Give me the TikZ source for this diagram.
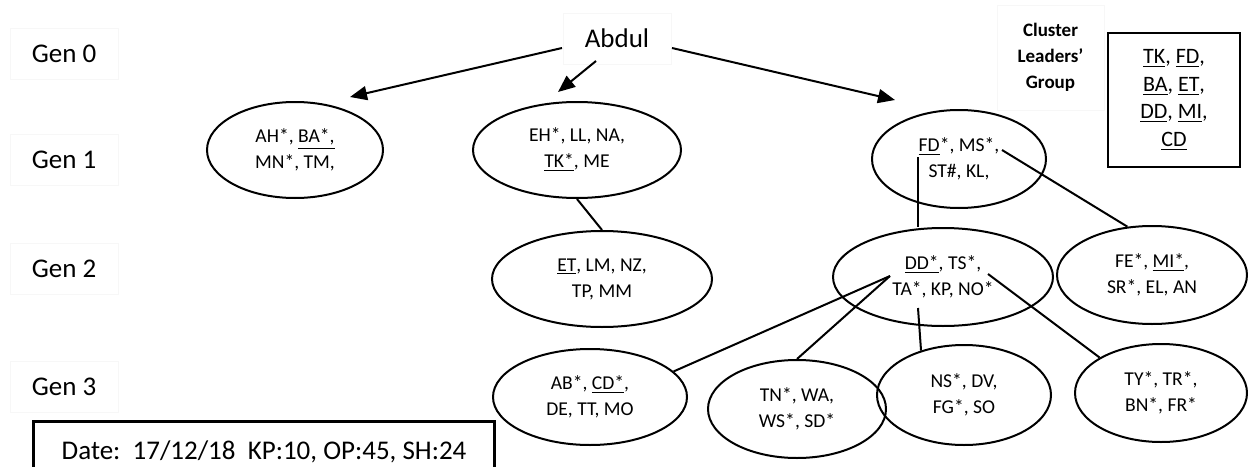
\documentclass[tikz,border=0pt]{standalone}
\usepackage{fontspec}
\setmainfont{Carlito}
\usetikzlibrary{shapes.geometric,arrows.meta,calc}
\begin{document}
\begin{tikzpicture}[x=0.5pt,y=-0.5pt,
  faint/.style={draw=black!3, line width=0.5pt, inner sep=0pt},
  gen/.style={faint, minimum width=54pt, minimum height=25.5pt, font=\fontsize{13.5}{16}\selectfont},
  person/.style={ellipse, draw, line width=1pt, inner sep=0pt, align=center, font=\fontsize{9.8}{13}\selectfont},
  link/.style={line width=1pt},
  arr/.style={line width=1pt, -{Triangle[length=8.5pt,width=7pt]}},
]
\useasboundingbox (0,0) rectangle (1248,466);
\clip (0,0) rectangle (1248,466);

% generation labels
\node[gen] (g0) at (64,53.5) {Gen 0};
\node[gen] (g1) at (64,160) {Gen 1};
\node[gen] (g2) at (64,268.5) {Gen 2};
\node[gen] (g3) at (64,386.5) {Gen 3};

% root
\node[faint, minimum width=54pt, minimum height=25.5pt, font=\fontsize{13.5}{16}\selectfont] (abdul) at (617,38.5) {Abdul};

% cluster leaders
\node[faint, minimum width=53.5pt, minimum height=52.5pt, align=center, font=\bfseries\fontsize{9.5}{13}\selectfont] (cl) at (1050.5,57.5) {Cluster\\Leaders’\\Group};
\node[draw, line width=1.2pt, inner sep=0pt, minimum width=66pt, minimum height=67pt, align=center, font=\fontsize{11}{13.8}\selectfont] (cb) at (1174,100) {\underline{TK}, \underline{FD},\\\underline{BA}, \underline{ET},\\\underline{DD}, \underline{MI},\\\underline{CD}};

% Gen 1
\node[person, minimum width=88pt, minimum height=48pt] (ah) at (295,150) {AH*, \underline{BA*,}\\MN*, TM,};
\node[person, minimum width=104pt, minimum height=48pt] (eh) at (577,150) {EH*, LL, NA,\\\underline{TK*}, ME};
\node[person, minimum width=87pt, minimum height=49pt] (fd) at (959,159) {\underline{FD}*, MS*,\\ST\#, KL,};

% Gen 2
\node[person, minimum width=110pt, minimum height=48pt] (et) at (602,279) {\underline{ET}, LM, NZ,\\TP, MM};
\node[person, minimum width=110pt, minimum height=49pt] (dd) at (943,277) {\underline{DD*}, TS*,\\TA*, KP, NO*};
\node[person, minimum width=95pt, minimum height=49pt] (fe) at (1152,275) {FE*, \underline{MI*},\\SR*, EL, AN};

% Gen 3
\node[person, minimum width=97pt, minimum height=48pt] (ab) at (590,397) {AB*, \underline{CD*},\\DE, TT, MO};
\node[person, minimum width=89pt, minimum height=49pt] (tn) at (797,409) {TN*, WA,\\WS*, SD*};
\node[person, minimum width=87pt, minimum height=50pt] (ns) at (964,395) {NS*, DV,\\FG*, SO};
\node[person, minimum width=86pt, minimum height=49pt] (ty) at (1161,393) {TY*, TR*,\\BN*, FR*};

% date box
\node[draw, line width=1.5pt, anchor=north west, inner sep=0pt, minimum width=230.5pt, minimum height=30pt, font=\fontsize{13.5}{16}\selectfont] (date) at (32,420) {Date:\ \ 17/12/18\ \ KP:10, OP:45, SH:24};

% connection points
\coordinate (a1s) at (562,48);
\coordinate (a1e) at (350,97);
\coordinate (a2s) at (596,61);
\coordinate (a2e) at (558,92);
\coordinate (a3s) at (672,48);
\coordinate (a3e) at (895,100);
\coordinate (fdx) at (918,157);
\coordinate (msx) at (1002,150);
\coordinate (ddl) at (890,276);
\coordinate (ddb) at (918,308);
\coordinate (ddr) at (988,274);

% arrows from root
\draw[arr] (a1s) -- (a1e);
\draw[arr] (a2s) -- (a2e);
\draw[arr] (a3s) -- (a3e);

% links
\draw[link] (eh.south) -- (et.north);
\draw[link] (fdx) -- (fdx |- dd.north);
\draw[link] (msx) -- (fe.117);
\draw[link] (ddl) -- (ab.17);
\draw[link] (ddl) -- (tn.north);
\draw[link] (ddb) -- (ns.134);
\draw[link] (ddr) -- (ty.150);
\end{tikzpicture}
\end{document}
